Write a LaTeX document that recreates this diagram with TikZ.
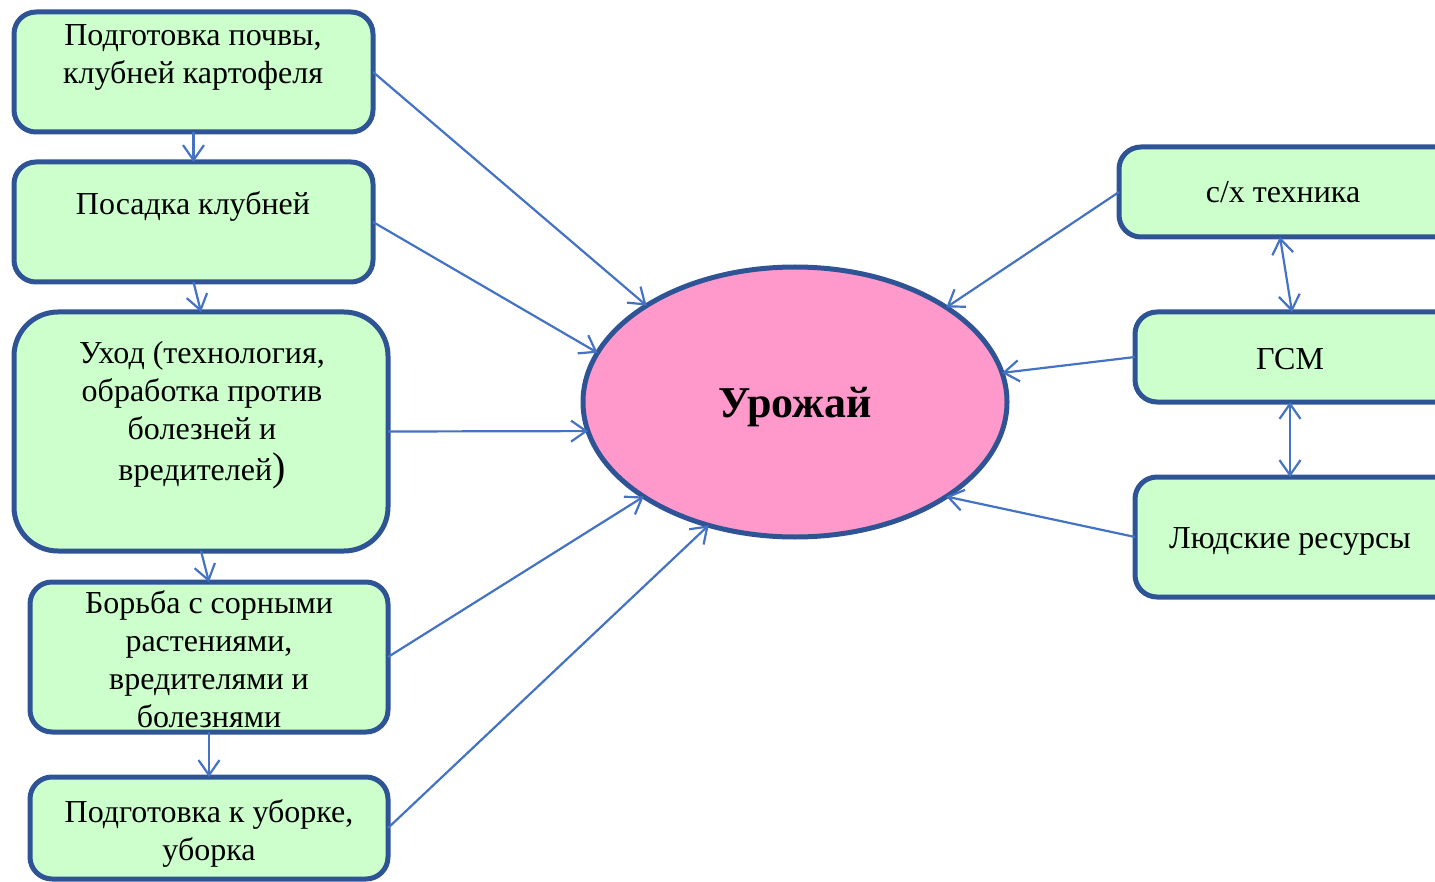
\documentclass[tikz,border=0pt]{standalone}
\usepackage{fontspec}
\setmainfont{Liberation Serif}
\usetikzlibrary{arrows.meta,shapes.geometric}
\definecolor{lineblue}{RGB}{68,114,196}
\definecolor{borderblue}{RGB}{47,84,150}
\definecolor{boxgreen}{RGB}{204,255,204}
\definecolor{ellpink}{RGB}{255,153,204}
\tikzset{
  stagebox/.style={draw=borderblue,line width=2.5pt,fill=boxgreen,rounded corners=11pt,inner sep=0pt,outer sep=0pt},
  boxtext/.style={anchor=base,align=center,inner sep=0pt,font=\fontsize{16}{19}\selectfont},
  conn/.style={draw=lineblue,line width=1.1pt,-{Straight Barb[length=7.5pt,width=10.5pt]}},
  dconn/.style={draw=lineblue,line width=1.1pt,{Straight Barb[length=7.5pt,width=10.5pt]}-{Straight Barb[length=7.5pt,width=10.5pt]}}
}
\begin{document}
\begin{tikzpicture}[x=0.5pt,y=-0.5pt]
\useasboundingbox (0,0) rectangle (1435,882);
% left boxes
\node[stagebox,minimum width=179.5pt,minimum height=60pt] (b1) at (193.5,72) {};
\node[stagebox,minimum width=179.5pt,minimum height=60pt] (b2) at (193.5,222) {};
\node[stagebox,rounded corners=22pt,minimum width=187pt,minimum height=119.5pt] (b3) at (201,431.5) {};
\node[stagebox,minimum width=179pt,minimum height=75pt] (b4) at (209,657) {};
\node[stagebox,minimum width=179pt,minimum height=51pt] (b5) at (209,828) {};
% right boxes
\node[stagebox,minimum width=170.5pt,minimum height=45pt] (b6) at (1289.5,192) {};
\node[stagebox,minimum width=162.5pt,minimum height=45pt] (b7) at (1297.5,357) {};
\node[stagebox,minimum width=162.5pt,minimum height=60pt] (b8) at (1297.5,537) {};
% ellipse
\node[ellipse,draw=borderblue,line width=2.5pt,fill=ellpink,minimum width=212pt,minimum height=135pt,inner sep=0pt,outer sep=0pt,text depth=0pt,font=\fontsize{22}{27}\selectfont\bfseries] (e) at (795,402) {Урожай};
% texts (anchor base = baseline of the last line)
\node[boxtext] (t1) at (193,84) {Подготовка почвы,\\клубней картофеля};
\node[boxtext] (t2) at (193,215) {Посадка клубней};
\node[boxtext] (t3) at (202,480) {Уход (технология,\\обработка против\\болезней и\\[1.5pt]вредителей{\fontsize{20}{19}\selectfont)}};
\node[boxtext] (t4) at (209,727) {Борьба с сорными\\растениями,\\вредителями и\\болезнями};
\node[boxtext] (t5) at (209,860) {Подготовка к уборке,\\уборка};
\node[boxtext] (t6) at (1283,203) {с/х техника};
\node[boxtext] (t7) at (1290,369) {ГСМ};
\node[boxtext] (t8) at (1290,548) {Людские ресурсы};
% vertical connectors
\draw[conn] (b1.south) -- (b2.north);
\draw[conn] (b2.south) -- (b3.north);
\draw[conn] (b3.south) -- (b4.north);
\draw[conn] (b4.south) -- (b5.north);
\draw[dconn] ([xshift=-4.75pt]b6.south) -- ([xshift=-2.75pt]b7.north);
\draw[dconn] ([xshift=-3.75pt]b7.south) -- ([xshift=-3.75pt]b8.north);
% to ellipse
\draw[conn] (b1.east) -- (e.147.5);
\draw[conn] (b2.east) -- (e.166.6);
\draw[conn] (b3.east) -- (e.188);
\draw[conn] (b4.east) -- (e.212.4);
\draw[conn] (b5.east) -- (e.235.7);
\draw[conn] (b6.west) -- (e.32.9);
\draw[conn] (b7.west) -- (e.8);
\draw[conn] (b8.west) -- (e.328);
\end{tikzpicture}
\end{document}
